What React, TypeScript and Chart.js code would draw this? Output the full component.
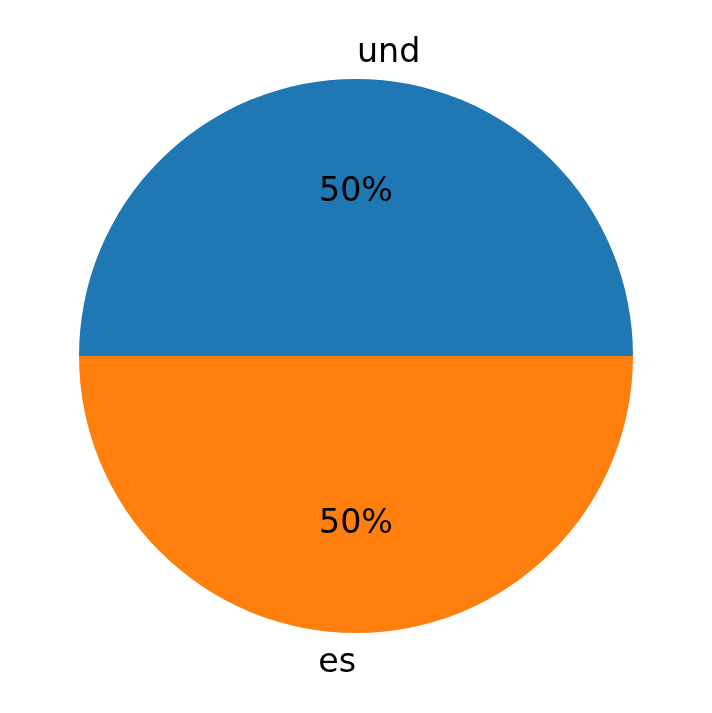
import React, { useEffect, useRef } from "react";
import { Chart, registerables } from "chart.js";

Chart.register(...registerables);

const categories = ["und", "es"];
const values = [1, 1];
const colors = ["#1f77b4", "#ff7f0e"];

const labelPlugin = {
  id: "mplLabels",
  afterDatasetsDraw(chart: any) {
    const meta = chart.getDatasetMeta(0);
    if (!meta.data.length) return;
    const arc = meta.data[0] as any;
    const cx = arc.x;
    const cy = arc.y;
    const r = arc.outerRadius;
    const total = values.reduce((a, b) => a + b, 0);
    const ctx = chart.ctx;
    ctx.save();
    ctx.font = "33.3px 'DejaVu Sans'";
    ctx.fillStyle = "#000000";
    ctx.textBaseline = "middle";
    const dy = 2.5;
    let cum = 0;
    values.forEach((v, i) => {
      const frac = v / total;
      const theta = 2 * Math.PI * (cum + frac / 2);
      cum += frac;
      const c = Math.cos(theta);
      const s = Math.sin(theta);
      // outer label
      const lx = cx + 1.1 * r * c;
      const ly = cy - 1.1 * r * s + dy;
      ctx.textAlign = c > 0 ? "left" : "right";
      ctx.fillText(categories[i], lx + (c > 0 ? 1 : 0), ly);
      // percent label
      const px = cx + 0.6 * r * c;
      const py = cy - 0.6 * r * s + dy;
      ctx.textAlign = "center";
      ctx.fillText(Math.round(frac * 100) + "%", px, py);
    });
    ctx.restore();
  },
};

export default function App() {
  const ref = useRef<HTMLCanvasElement>(null);
  useEffect(() => {
    document.body.style.margin = "0";
    const chart = new Chart(ref.current!, {
      type: "pie",
      data: {
        labels: categories,
        datasets: [
          {
            data: values,
            backgroundColor: colors,
            borderWidth: 0,
          },
        ],
      },
      options: {
        responsive: false,
        animation: false,
        rotation: -90,
        layout: { padding: { left: 79, right: 79, top: 79, bottom: 80 } },
        plugins: {
          legend: { display: false },
          tooltip: { enabled: false },
        },
      },
      plugins: [labelPlugin],
    });
    return () => chart.destroy();
  }, []);
  return (
    <div style={{ width: 712, height: 713, background: "#ffffff" }}>
      <canvas ref={ref} width={712} height={713} />
    </div>
  );
}
